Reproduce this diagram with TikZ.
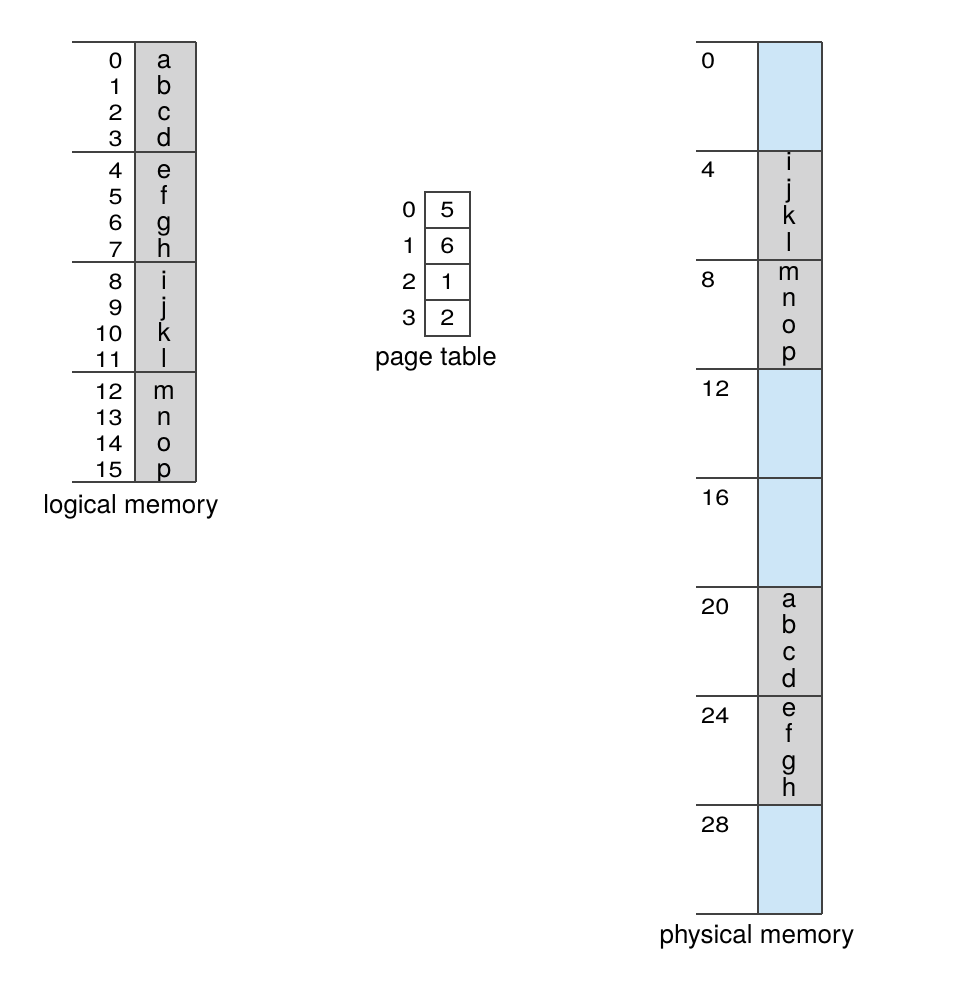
\documentclass[tikz,border=0pt]{standalone}
\usepackage{fontspec}
\setmainfont{TeX Gyre Heros}
\newfontfamily\digitfont[FakeStretch=1.15]{TeX Gyre Heros}
\usepackage{tikz}
\usetikzlibrary{positioning}
\definecolor{pagegray}{RGB}{212,212,213}
\definecolor{freeblue}{RGB}{205,230,247}
\definecolor{rulegray}{RGB}{65,65,65}
\tikzset{
  % --- texts ----------------------------------------------------------------
  byte/.style={anchor=base,inner sep=0pt,font=\fontsize{26}{26}\selectfont},
  addr/.style={anchor=base east,inner sep=0pt,
               font=\digitfont\fontsize{22}{22}\selectfont},
  frameno/.style={addr,anchor=base west},
  caption/.style={anchor=base,inner sep=0pt,font=\fontsize{26}{26}\selectfont},
  % --- page table -----------------------------------------------------------
  ptcell/.style={rectangle,draw=rulegray,line width=1.2pt,minimum width=45pt,
                 minimum height=36pt,inner sep=0pt,
                 font=\digitfont\fontsize{22}{22}\selectfont},
  ptidx/.style={inner sep=0pt,font=\digitfont\fontsize{22}{22}\selectfont},
  % --- memory columns -------------------------------------------------------
  rule/.style={draw=rulegray,line width=1.2pt},
  usedcell/.style={fill=pagegray},
  freecell/.style={fill=freeblue},
}

\begin{document}
\begin{tikzpicture}[x=1pt, y=-1pt]
  \useasboundingbox (0,0) rectangle (964,984);
  \fill[white] (0,0) rectangle (964,984);

  % logical memory
  \fill[usedcell] (135,42) rectangle (196,482);
  \foreach \ch [count=\n from 0] in {a,...,p}{
    \pgfmathsetmacro\yb{42+110*floor(\n/4)+27+26*mod(\n,4)}
    \node[addr] (la\n) at (123,\yb) {\n};
    \node[byte] (lb\n) at (164,\yb) {\ch};
  }
  \foreach \y in {42,152,...,482}
    \draw[rule] (72,\y) -- (196,\y);
  \draw[rule] (135,42) -- (135,482);
  \draw[rule] (196,42) -- (196,482);
  \node[caption] (lcap) at (131,513) {logical memory};

  % page table
  \foreach \v [count=\j from 0] in {5,6,1,2}{
    \node[ptcell] (pt\j) at (447.5,{210+36*\j}) {\v};
    \node[ptidx,left=8pt of pt\j] (pi\j) {\j};
  }
  \node[caption] (ptcap) at (436,365) {page table};

  % physical memory
  \foreach \kind [count=\f from 0] in
      {freecell,usedcell,usedcell,freecell,freecell,usedcell,usedcell,freecell}
    \fill[\kind] (758,{42+109*\f}) rectangle ++(64,109);
  \foreach \f in {0,...,7}{
    \pgfmathtruncatemacro\base{4*\f}
    \node[frameno] (fn\f) at (701,{42+109*\f+27}) {\base};
  }
  \foreach \ch [count=\n from 0] in {a,...,p}{
    \pgfmathtruncatemacro\fr{{5,6,1,2}[floor(\n/4)]}
    \pgfmathsetmacro\yb{42+109*\fr+20+26.7*mod(\n,4)}
    \node[byte] (pb\n) at (789,\yb) {\ch};
  }
  \foreach \f in {0,...,8}
    \draw[rule] (696,{42+109*\f}) -- (822,{42+109*\f});
  \draw[rule] (758,42) -- (758,914);
  \draw[rule] (822,42) -- (822,914);
  \node[caption] (pcap) at (757,943) {physical memory};
\end{tikzpicture}
\end{document}
